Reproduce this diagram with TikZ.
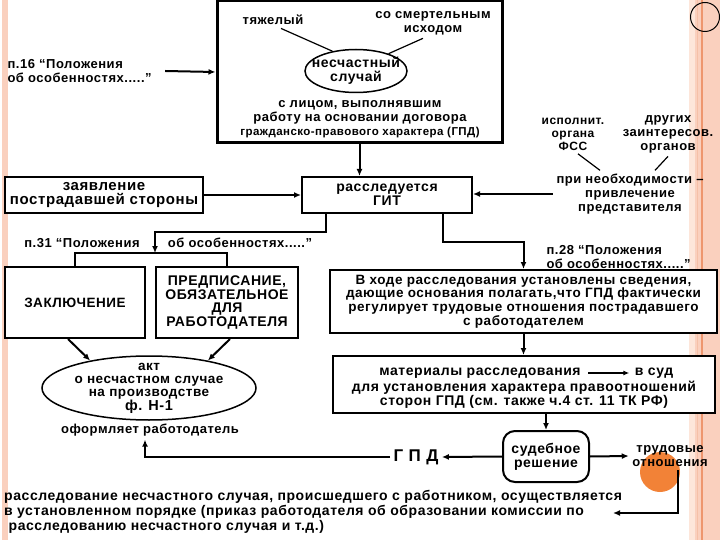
\documentclass[tikz,border=0pt]{standalone}
\usepackage{fontspec}
\setmainfont{Liberation Sans}[LetterSpace=4]
\usetikzlibrary{arrows.meta,shapes.geometric,calc}

\definecolor{stripe}{RGB}{250,208,190}
\definecolor{stripelight}{RGB}{253,230,218}
\definecolor{stripeline}{RGB}{238,150,110}
\definecolor{blob}{RGB}{242,130,55}

\tikzset{
  txt/.style={font=\fontsize{13}{14}\selectfont\bfseries, align=center},
  txtbig/.style={font=\fontsize{14}{13.8}\selectfont\bfseries, align=center},
  txtsmall/.style={font=\fontsize{12}{13}\selectfont\bfseries, align=center},
  box/.style={draw, line width=2pt, fill=white, inner sep=2pt},
  oval/.style={ellipse, draw, line width=1.5pt, inner sep=0pt},
  arr/.style={line width=2pt, -{Latex[length=7pt,width=6pt]}},
  pointer/.style={line width=1.2pt}
}

\begin{document}
\begin{tikzpicture}[x=1pt,y=-1pt]
        \useasboundingbox (0,0) rectangle (720,540);
        % stripes
        \path[fill = stripe](2,0)rectangle(8,540);
        \path[fill = stripe](689,0)rectangle(720,540);
        \path[fill = stripelight](689,0)rectangle(695,540);
        \path[draw, stripeline, line width = 1.5pt](702,0)to(702,540);
        \path[draw, stripeline!60, line width = 0.8pt](697,0)to(697,540);
        \path[draw, line width = 1pt](705,17)circle(14.5);
        % top frame
        \node[draw, line width = 3pt, minimum width = 285pt, minimum height = 142pt](frame)at(359.5,72){};
        \node[txt](tyazh)at(273,20){тяжелый};
        \node[txt](smert)at(433,23){со смертельным\\исходом};
        \node[oval, minimum width = 102pt, minimum height = 43pt](nesch)at(356,71){};
        \node[txtbig]at(nesch){несчастный\\случай};
        \node[txt](lico)at(360,119){с лицом, выполнявшим\\работу на основании договора\\{\fontsize{11.5}{12}\selectfont гражданско-правового характера (ГПД)}};
        \path[draw, pointer]([xshift = 8pt]tyazh.south)to(nesch.140);
        \path[draw, pointer]([xshift = -10pt]smert.south)to(nesch.28);
        \node[txt, align = left, anchor = west](p16)at(4,71){п.16 “Положения\\об особенностях.....”};
        \path[draw, arr]($(p16.east)+(10,0)$)to(frame.west);
        % second row
        \node[box, font = \fontsize{15}{14}\selectfont\bfseries, align = center, minimum width = 198pt, minimum height = 36pt](zayav)at(104,195){заявление\\пострадавшей стороны};
        \node[box, txtbig, minimum width = 170pt, minimum height = 36pt](git)at(387,195){расследуется\\ГИТ};
        \node[txtsmall](fss)at(573,134){исполнит.\\органа\\ФСС};
        \node[txt](drug)at(668,134){других\\заинтересов.\\органов};
        \node[txt](neobh)at(630,194){при необходимости --\\привлечение\\представителя};
        \path[draw, pointer]([xshift = 5pt]fss.south)to([xshift = -30pt]neobh.north);
        \path[draw, pointer](drug.south)to([xshift = 25pt]neobh.north);
        \path[draw, arr](frame.south)to(frame.south|-git.north);
        \path[draw, arr](zayav.east)to(git.west);
        \path[draw, arr](neobh.west)to(neobh.west-|git.east);
        % п.31
        \node[txt](p31a)at(82,243){п.31 “Положения};
        \node[txt](p31b)at(240,243){об особенностях.....”};
        \node[box, font = \fontsize{13.5}{14}\selectfont\bfseries, minimum width = 140pt, minimum height = 71pt](zakl)at(75,302.5){ЗАКЛЮЧЕНИЕ};
        \node[box, txtbig, minimum width = 142pt, minimum height = 71pt](predp)at(227,302.5){ПРЕДПИСАНИЕ,\\ОБЯЗАТЕЛЬНОЕ\\ДЛЯ\\РАБОТОДАТЕЛЯ};
        \coordinate(j1)at(155,232);
        \coordinate(brk)at(155,253);
        \path[draw, arr]([xshift = 25pt]git.south west)|-(j1)to(brk);
        \path[draw, line width = 2pt](zakl.north)|-(brk)-|(predp.north);
        % акт
        \node[oval, minimum width = 214pt, minimum height = 64pt](akt)at(149,388){};
        \node[font = \fontsize{13.5}{13.4}\selectfont\bfseries, align = center]at(akt){акт\\о несчастном случае\\на производстве\\{\fontsize{14.5}{14.5}\selectfont ф. Н-1}};
        \node[txt](oform)at(150,430){оформляет работодатель};
        \path[draw, arr]([xshift = -7pt]zakl.south)to(akt.155);
        \path[draw, arr]([xshift = 3pt]predp.south)to(akt.25);
        % right column
        \node[txt, align = left, anchor = west](p28)at(543,257){п.28 “Положения\\об особенностях.....”};
        \node[box, font = \fontsize{13.5}{13.8}\selectfont\bfseries, align = center, minimum width = 387pt, minimum height = 63pt](vhode)at(523.5,301.5){В ходе расследования установлены сведения,\\дающие основания полагать,что ГПД фактически\\регулирует трудовые отношения пострадавшего\\с работодателем};
        \coordinate(j2)at(523.5,242);
        \path[draw, arr]([xshift = -30pt]git.south east)|-(j2)to(vhode.north);
        \node[box, minimum width = 382pt, minimum height = 57pt](mater)at(524,384.5){};
        \node[txtbig](mat1)at(480,373){материалы расследования};
        \node[txtbig](vsud)at(654,373){в суд};
        \node[txtbig](mat2)at(524,394.5){для установления характера правоотношений\\сторон ГПД (см. также ч.4 ст. 11 ТК РФ)};
        \path[draw, line width = 1.5pt, -{Latex[length=6pt,width=5pt]}]([xshift = 4pt]mat1.east)to([xshift = -2pt]vsud.west);
        \path[draw, arr](vhode.south)to(vhode.south|-mater.north);
        % суд
        \node[box, txtbig, rounded corners = 12pt, minimum width = 86pt, minimum height = 51pt](sud)at(546,456.5){судебное\\решение};
        \path[draw, arr](sud.north|-mater.south)to(sud.north);
        \path[fill = blob](660,472)circle(20);
        \node[txt](trud)at(670,456){трудовые\\отношения};
        \node[txt, font = \fontsize{17}{17}\selectfont\bfseries](gpd)at(416,457){Г П Д};
        \path[draw, arr](sud.west)to(gpd.east);
        \path[draw, arr](sud.east)to(trud.west);
        \path[draw, arr](gpd.west)-|([xshift = -5pt]oform.south);
        % bottom text
        \node[align = left, anchor = north west, font = \fontsize{14}{15}\selectfont\bfseries, inner sep = 2pt](botxt)at(2,488){расследование несчастного случая, происшедшего с работником, осуществляется\\в установленном порядке (приказ работодателя об образовании комиссии по\\\ расследованию несчастного случая и т.д.)};
        \coordinate(bt)at(613,513);
        \path[draw, arr]([xshift = 8pt]trud.south)|-(bt);
\end{tikzpicture}
\end{document}
